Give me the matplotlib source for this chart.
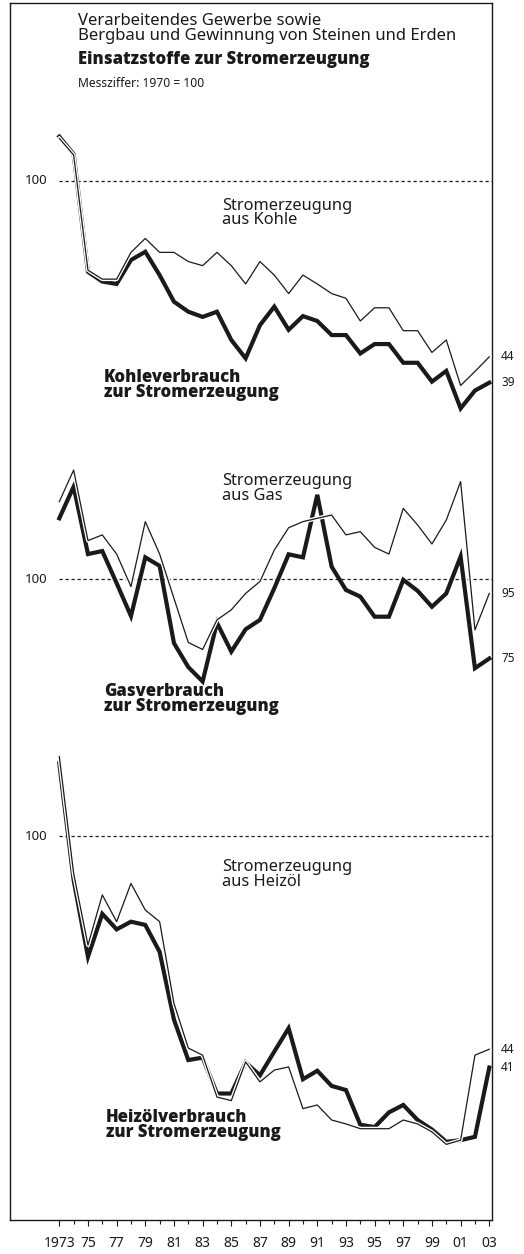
import matplotlib
matplotlib.use("Agg")
import matplotlib.pyplot as plt
import matplotlib.patheffects as pe
import matplotlib.transforms as mtrans

plt.rcParams["font.family"] = ["Noto Sans", "DejaVu Sans"]
BOLD_FONT = ["Open Sans", "DejaVu Sans"]

# data: index 1970 = 100
years = list(range(1973, 2004))
tick_years = list(range(1973, 2004, 2))
tick_labels = ["1973", "75", "77", "79", "81", "83", "85", "87", "89",
               "91", "93", "95", "97", "99", "01", "03"]

coal_use = [122.8, 113.1, 65.4, 62.5, 61.8, 69.1, 71.8, 64.4, 56.9, 54.3, 53.0,
            54.3, 47.6, 43.7, 51.0, 55.6, 49.9, 53.2, 52.0, 48.7, 48.7, 44.7,
            46.7, 46.7, 42.8, 42.8, 39.2, 41.2, 34.6, 37.6, 39]
coal_power = [121.8, 112.7, 65.9, 63.2, 63.2, 71.6, 76.4, 71.6, 71.6, 68.6, 67.3,
              71.6, 67.3, 61.8, 68.6, 64.4, 59.1, 64.4, 61.8, 59.1, 57.8, 52.0,
              55.3, 55.3, 49.7, 49.7, 44.9, 47.6, 38.5, 41.1, 44]
gas_use = [124.8, 140.0, 109.6, 110.8, 98.6, 87.5, 108.3, 105.0, 79.3, 72.7, 69.0,
           85.4, 76.9, 83.4, 86.3, 96.8, 109.5, 108.3, 135.9, 104.7, 96.2, 93.9,
           87.3, 87.3, 99.8, 95.9, 90.5, 95.0, 108.6, 72.4, 75]
gas_power = [132.6, 148.7, 115.1, 117.5, 109.6, 97.4, 123.3, 109.6, 93.3, 79.5, 77.5,
             86.3, 89.5, 95.0, 99.2, 111.2, 120.6, 123.3, 124.8, 126.3, 117.5, 118.9,
             112.3, 109.6, 129.4, 121.8, 113.7, 124.0, 142.6, 83.2, 95]
oil_use = [132.3, 84.4, 62.8, 74.1, 69.8, 71.9, 71.0, 64.0, 49.3, 42.2, 42.6,
           37.1, 37.1, 41.8, 39.8, 43.6, 47.7, 39.2, 40.5, 38.2, 37.6, 32.9,
           32.6, 34.5, 35.5, 33.5, 32.3, 30.8, 31.0, 31.4, 41]
oil_power = [135.8, 86.6, 65.7, 79.7, 71.9, 83.3, 75.2, 71.9, 52.5, 44.2, 43.0,
             36.6, 36.1, 41.9, 38.8, 40.6, 41.1, 35.0, 35.5, 33.5, 33.0, 32.4,
             32.4, 32.4, 33.5, 33.0, 32.0, 30.5, 31.0, 43.0, 44]

W, H = 524, 1254
INK = "#1a1a1a"
XLIM = (1969.56, 2003.19)


def fx(x):
    return x / W


def fy(y):
    return 1 - y / H


fig = plt.figure(figsize=(W / 100, H / 100), dpi=100)

# outer frame with the year axis
frame = fig.add_axes([fx(10), fy(1220), 482 / W, (1220 - 3) / H])
frame.set_xlim(*XLIM)
frame.set_yticks([])
frame.set_xticks(tick_years)
frame.set_xticklabels(tick_labels, fontsize=10, color=INK)
frame.set_xticks(years, minor=True)
frame.tick_params(axis="x", which="major", direction="out", length=4.5, width=0.8,
                  pad=7, color=INK)
frame.tick_params(axis="x", which="minor", direction="out", length=3, width=0.8,
                  color=INK)
for s in frame.spines.values():
    s.set_linewidth(1.0)
    s.set_color(INK)


def block(x, baseline, text, spacing, **kw):
    # baseline of the last line
    fig.text(fx(x), fy(baseline), text, va="baseline", ha="left", color=INK,
             linespacing=spacing, **kw)


def panel(top, bottom, ref, decade, use, power, power_text, power_base,
          use_text, use_base, use_x):
    ax = fig.add_axes([fx(10), fy(bottom), 482 / W, (bottom - top) / H])
    ax.set_facecolor("none")
    ax.set_yscale("log")
    ax.set_xlim(*XLIM)
    ax.set_ylim(100 * 10 ** (-(bottom - ref) / decade), 100 * 10 ** ((ref - top) / decade))
    ax.axis("off")
    ax.hlines(100, years[0], XLIM[1], colors=INK, lw=0.9, linestyles=(0, (2.6, 2.2)))
    ax.plot(years, use, color=INK, lw=3.0, solid_joinstyle="miter", zorder=3)
    ax.plot(years, power, color=INK, lw=0.9, zorder=4,
            path_effects=[pe.Stroke(linewidth=2.8, foreground="white"), pe.Normal()])
    tr = mtrans.blended_transform_factory(fig.transFigure, ax.transData)
    ax.text(fx(47), 100, "100", transform=tr, ha="right", va="center",
            fontsize=9.5, color=INK)
    ax.text(fx(501), power[-1], str(round(power[-1])), transform=tr, ha="left",
            va="center", fontsize=8.5, color=INK, clip_on=False)
    ax.text(fx(501), use[-1], str(round(use[-1])), transform=tr, ha="left",
            va="center", fontsize=8.5, color=INK, clip_on=False)
    block(221.7, power_base, power_text, 0.9, fontsize=11.8)
    block(use_x, use_base, use_text, 0.85, fontsize=12, fontweight=800,
          family=BOLD_FONT)
    return ax


panel(100, 420, 180.7, 494, coal_use, coal_power,
      "Stromerzeugung\naus Kohle", 224.3,
      "Kohleverbrauch\nzur Stromerzeugung", 397.3, 104)
panel(440, 740, 579.3, 634, gas_use, gas_power,
      "Stromerzeugung\naus Gas", 500,
      "Gasverbrauch\nzur Stromerzeugung", 711, 104)
panel(750, 1215, 836, 598, oil_use, oil_power,
      "Stromerzeugung\naus Heizöl", 886,
      "Heizölverbrauch\nzur Stromerzeugung", 1136.7, 106)

# header
block(77.7, 40, "Verarbeitendes Gewerbe sowie\nBergbau und Gewinnung von Steinen und Erden",
      0.9, fontsize=12)
block(77.7, 64, "Einsatzstoffe zur Stromerzeugung", 1.0, fontsize=12, fontweight=800,
      family=BOLD_FONT)
block(77.7, 87.3, "Messziffer: 1970 = 100", 1.0, fontsize=8.7)

fig.savefig("out.png", dpi=100)
